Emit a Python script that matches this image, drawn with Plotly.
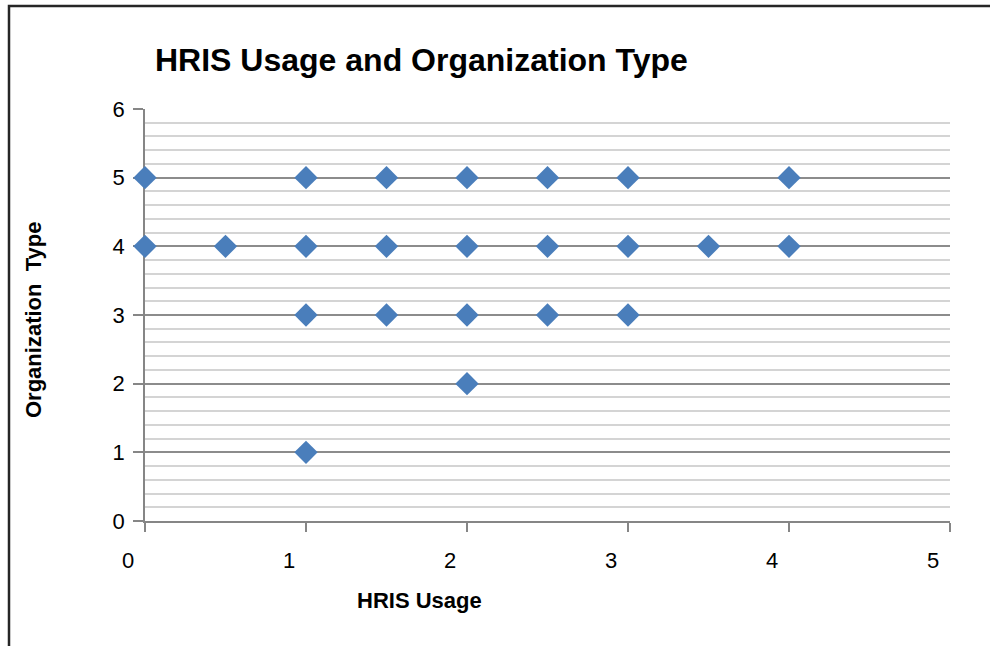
import plotly.graph_objects as go

# Data
hris_usage = [0, 1, 1.5, 2, 2.5, 3, 4,
              0, 0.5, 1, 1.5, 2, 2.5, 3, 3.5, 4,
              1, 1.5, 2, 2.5, 3,
              2,
              1]
org_type = [5, 5, 5, 5, 5, 5, 5,
            4, 4, 4, 4, 4, 4, 4, 4, 4,
            3, 3, 3, 3, 3,
            2,
            1]
x_ticks = [0, 1, 2, 3, 4, 5]
y_ticks = [0, 1, 2, 3, 4, 5, 6]

W, H = 990, 646
L, R, T, B = 145, 40, 109, 125
pw, ph = W - L - R, H - T - B

def px_x(p):
    return (p - L) / pw

def px_y(p):
    return (H - B - p) / ph

fig = go.Figure()
fig.add_trace(go.Scatter(
    x=hris_usage, y=org_type, mode="markers",
    marker=dict(symbol="diamond", size=18, color="#4a7ebb",
                line=dict(width=0)),
    cliponaxis=False, showlegend=False,
))

font = "Liberation Sans, Arial, sans-serif"
fig.update_layout(
    width=W, height=H,
    margin=dict(l=L, r=R, t=T, b=B),
    paper_bgcolor="white", plot_bgcolor="white",
    font=dict(family=font, color="black"),
    title=dict(text="<b>HRIS Usage and Organization Type</b>",
               x=155 / W, xanchor="left", xref="container",
               y=1 - 60 / H, yanchor="middle", yref="container",
               font=dict(size=32, family=font, color="black")),
    xaxis=dict(range=[0, 5], tickvals=x_ticks, showgrid=False,
               zeroline=False, showline=True, linecolor="#868686", linewidth=1.5,
               ticks="outside", ticklen=9, tickcolor="#868686", tickwidth=1.5,
               tickfont=dict(size=22, family=font), layer="below traces",
               ticklabelshift=-17, ticklabelstandoff=10),
    yaxis=dict(range=[0, 6], tickvals=y_ticks, zeroline=False,
               showgrid=True, gridcolor="#8c8c8c", gridwidth=1.5,
               minor=dict(dtick=0.2, showgrid=True, gridcolor="#d4d4d4", gridwidth=1.5),
               showline=True, linecolor="#868686", linewidth=1.5,
               ticks="outside", ticklen=10, tickcolor="#868686", tickwidth=1.5,
               tickfont=dict(size=22, family=font), layer="below traces",
               ticklabelstandoff=4),
    annotations=[
        dict(text="<b>HRIS Usage</b>", xref="paper", yref="paper",
             x=px_x(419), y=px_y(600), xanchor="center", yanchor="middle",
             showarrow=False, font=dict(size=22, family=font, color="black")),
        dict(text="<b>Organization  Type</b>", xref="paper", yref="paper",
             x=px_x(33), y=px_y(320), xanchor="center", yanchor="middle",
             textangle=-90, showarrow=False,
             font=dict(size=22, family=font, color="black")),
    ],
    shapes=[
        dict(type="rect", xref="paper", yref="paper",
             x0=px_x(9), x1=px_x(1005), y0=px_y(660), y1=px_y(6),
             line=dict(color="#262626", width=2.5), fillcolor="rgba(0,0,0,0)",
             layer="below"),
    ],
)

fig.write_html("out.html", config={"displayModeBar": False},
               post_script="document.body.style.margin='0';")
